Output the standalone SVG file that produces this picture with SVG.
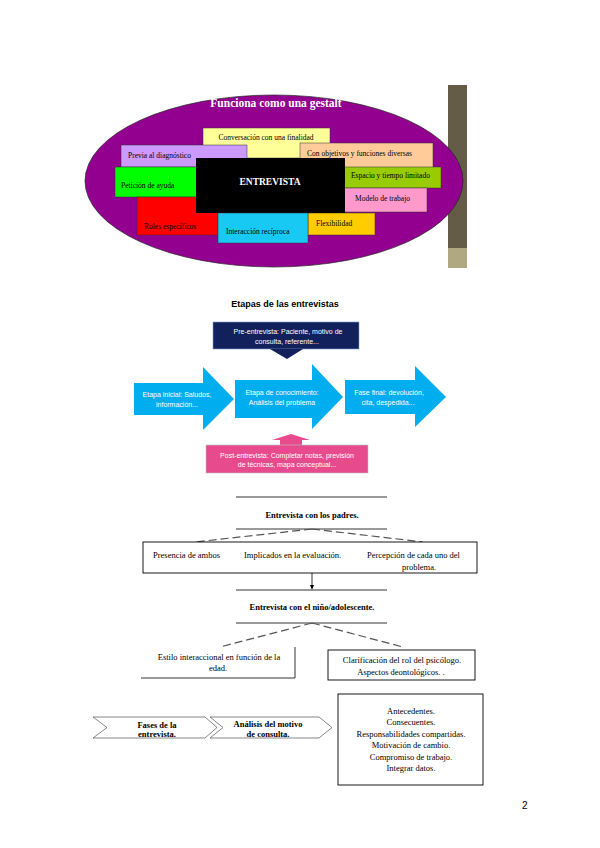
<svg xmlns="http://www.w3.org/2000/svg" width="600" height="848" viewBox="0 0 600 848">
<style>
.ser{font-family:"Liberation Serif","Times New Roman",serif;}
.san{font-family:"Liberation Sans",Arial,sans-serif;}
.g{font-size:7.5px;fill:#000;}
.w{fill:#fff;font-size:7px;}
.b{font-weight:bold;}
.ln{stroke:#000;stroke-width:0.8;fill:none;}
.dash{stroke:#555;stroke-width:1.2;stroke-dasharray:8,4;fill:none;}
.bx{fill:#fff;stroke:#000;stroke-width:0.9;}
.t{font-size:8.5px;fill:#000;}
</style>
<rect width="600" height="848" fill="#fff"/>

<!-- Top picture -->
<g id="gestalt">
<rect x="448" y="85" width="19" height="163" fill="#655c48"/>
<rect x="448" y="248" width="19" height="20" fill="#b0a880"/>
<ellipse cx="274" cy="181" rx="189" ry="86" fill="#93008f" stroke="#222" stroke-width="0.7"/>
<text x="276" y="107" text-anchor="middle" class="ser b" font-size="11.5" fill="#fff">Funciona como una gestalt</text>
<g id="n-conv"><rect x="203" y="128" width="127" height="30" fill="#ffff99" stroke="#333" stroke-width="0.5"/><text x="266" y="140" text-anchor="middle" class="ser g">Conversación con una finalidad</text></g>
<g id="n-previa"><rect x="121" y="145" width="126" height="22" fill="#cc99ff" stroke="#333" stroke-width="0.5"/><text x="128" y="158" class="ser g">Previa al diagnóstico</text></g>
<g id="n-obj"><rect x="300" y="143" width="133" height="25" fill="#ffcc99" stroke="#333" stroke-width="0.5"/><text x="307" y="156" class="ser g">Con objetivos y funciones diversas</text></g>
<g id="n-peticion"><rect x="115" y="167" width="85" height="30" fill="#00ff00" stroke="#333" stroke-width="0.5"/><text x="121" y="188" class="ser g">Petición de ayuda</text></g>
<g id="n-roles"><rect x="137" y="197" width="81" height="38" fill="#ff0000" stroke="#333" stroke-width="0.5"/><text x="144" y="229" class="ser g">Roles específicos</text></g>
<g id="n-espacio"><rect x="340" y="167" width="101" height="21" fill="#99cc00" stroke="#333" stroke-width="0.5"/><text x="351" y="178" class="ser g" font-size="7">Espacio y tiempo limitado</text></g>
<g id="n-modelo"><rect x="340" y="188" width="87" height="24" fill="#ff99cc" stroke="#333" stroke-width="0.5"/><text x="355" y="201" class="ser g">Modelo de trabajo</text></g>
<g id="n-flex"><rect x="308" y="213" width="67" height="22" fill="#ffcc00" stroke="#333" stroke-width="0.5"/><text x="316" y="226" class="ser g">Flexibilidad</text></g>
<g id="n-entrevista"><rect x="196" y="158" width="149" height="55" fill="#000"/><text x="270" y="185" text-anchor="middle" class="ser b" font-size="9.5" fill="#fff">ENTREVISTA</text></g>
<g id="n-inter"><rect x="218" y="213" width="90" height="30" fill="#17c9f3" stroke="#333" stroke-width="0.5"/><text x="226" y="234" class="ser g">Interacción recíproca</text></g>
</g>

<!-- Etapas -->
<text x="285" y="307" text-anchor="middle" class="san b" font-size="9">Etapas de las entrevistas</text>
<g id="pre">
<rect x="213" y="322" width="146" height="27" fill="#12215c" stroke="#7fa0d0" stroke-width="0.6"/>
<polygon points="270,349 303,349 287,359" fill="#12215c"/>
<text x="288" y="334" text-anchor="middle" class="san w">Pre-entrevista: Paciente, motivo de</text>
<text x="287" y="344" text-anchor="middle" class="san w">consulta, referente...</text>
</g>
<g id="etapa1">
<polygon points="134,383 203,383 203,367 234,399 203,430 203,415 134,415" fill="#00aeef"/>
<text x="177" y="397" text-anchor="middle" class="san w">Etapa inicial: Saludos,</text>
<text x="177" y="407" text-anchor="middle" class="san w">información...</text>
</g>
<g id="etapa2">
<polygon points="235,380 312,380 312,364 343,397 312,429 312,418 235,418" fill="#00aeef"/>
<text x="282" y="395" text-anchor="middle" class="san w">Etapa de conocimiento:</text>
<text x="282" y="405" text-anchor="middle" class="san w">Análisis del problema</text>
</g>
<g id="etapa3">
<polygon points="345,380 415,380 415,366 446,397 415,427 415,414 345,414" fill="#00aeef"/>
<text x="389" y="395" text-anchor="middle" class="san w">Fase final: devolución,</text>
<text x="388" y="405" text-anchor="middle" class="san w">cita, despedida...</text>
</g>
<g id="post">
<polygon points="272,440 291,434 310,440 302,440 302,446 280,446 280,440" fill="#e84a8e"/>
<rect x="206" y="445" width="162" height="28" fill="#e84a8e" stroke="#c0c0c0" stroke-width="0.6"/>
<text x="287" y="458" text-anchor="middle" class="san w">Post-entrevista: Completar notas, previsión</text>
<text x="287" y="467" text-anchor="middle" class="san w">de técnicas, mapa conceptual...</text>
</g>

<!-- Section 3 connectors -->
<g id="connectors">
<line x1="236" y1="497" x2="387" y2="497" class="ln"/>
<line x1="236" y1="529" x2="387" y2="529" class="ln"/>
<path d="M312,529 L195,542 M312,529 L423,542" class="dash"/>
<line x1="312" y1="573" x2="312" y2="587" stroke="#000" stroke-width="0.8"/>
<polygon points="310,585 314,585 312,590" fill="#000"/>
<line x1="236" y1="590" x2="387" y2="590" class="ln"/>
<line x1="236" y1="623" x2="387" y2="623" class="ln"/>
<path d="M312,623 L220,647 M312,623 L403,647" class="dash"/>
</g>
<g id="padres"><text x="312" y="518" text-anchor="middle" class="ser b t">Entrevista con los padres.</text></g>
<g id="box-padres">
<rect x="143" y="542" width="334" height="31" class="bx"/>
<text x="153" y="558" class="ser t">Presencia de ambos</text>
<text x="244" y="558" class="ser t">Implicados en la evaluación.</text>
<text x="367" y="558" class="ser t">Percepción de cada uno del</text>
<text x="419" y="570" text-anchor="middle" class="ser t">problema.</text>
</g>
<g id="nino"><text x="312" y="610" text-anchor="middle" class="ser b t">Entrevista con el niño/adolescente.</text></g>
<g id="estilo">
<path d="M295,647 L295,678 L141,678" class="ln"/>
<text x="219" y="660" text-anchor="middle" class="ser t">Estilo interaccional en función de la</text>
<text x="218" y="671" text-anchor="middle" class="ser t">edad.</text>
</g>
<g id="clarif">
<rect x="328" y="650" width="147" height="30" class="bx"/>
<text x="402" y="663" text-anchor="middle" class="ser t">Clarificación del rol del psicólogo.</text>
<text x="401" y="675" text-anchor="middle" class="ser t">Aspectos deontológicos. .</text>
</g>

<!-- Section 4 -->
<g id="fases">
<polygon points="93,717 205,717 217,727.5 205,738 93,738 107,727.5" fill="#fff" stroke="#555" stroke-width="0.7"/>
<text x="157" y="728" text-anchor="middle" class="ser b t">Fases de la</text>
<text x="157" y="737" text-anchor="middle" class="ser b t">entrevista.</text>
</g>
<g id="analisis">
<polygon points="210,717 319,717 332,727.5 319,738 210,738 223,727.5" fill="#fff" stroke="#555" stroke-width="0.7"/>
<text x="268" y="727" text-anchor="middle" class="ser b t">Análisis del motivo</text>
<text x="268" y="737" text-anchor="middle" class="ser b t">de consulta.</text>
</g>
<g id="lista">
<rect x="338" y="694" width="145" height="91" class="bx"/>
<text x="411" y="714" text-anchor="middle" class="ser t">Antecedentes.</text>
<text x="411" y="725" text-anchor="middle" class="ser t">Consecuentes.</text>
<text x="411" y="737" text-anchor="middle" class="ser t">Responsabilidades compartidas.</text>
<text x="411" y="748" text-anchor="middle" class="ser t">Motivación de cambio.</text>
<text x="411" y="760" text-anchor="middle" class="ser t">Compromiso de trabajo.</text>
<text x="411" y="771" text-anchor="middle" class="ser t">Integrar datos.</text>
</g>
<text x="522" y="809" class="san" font-size="10" fill="#000">2</text>
</svg>
